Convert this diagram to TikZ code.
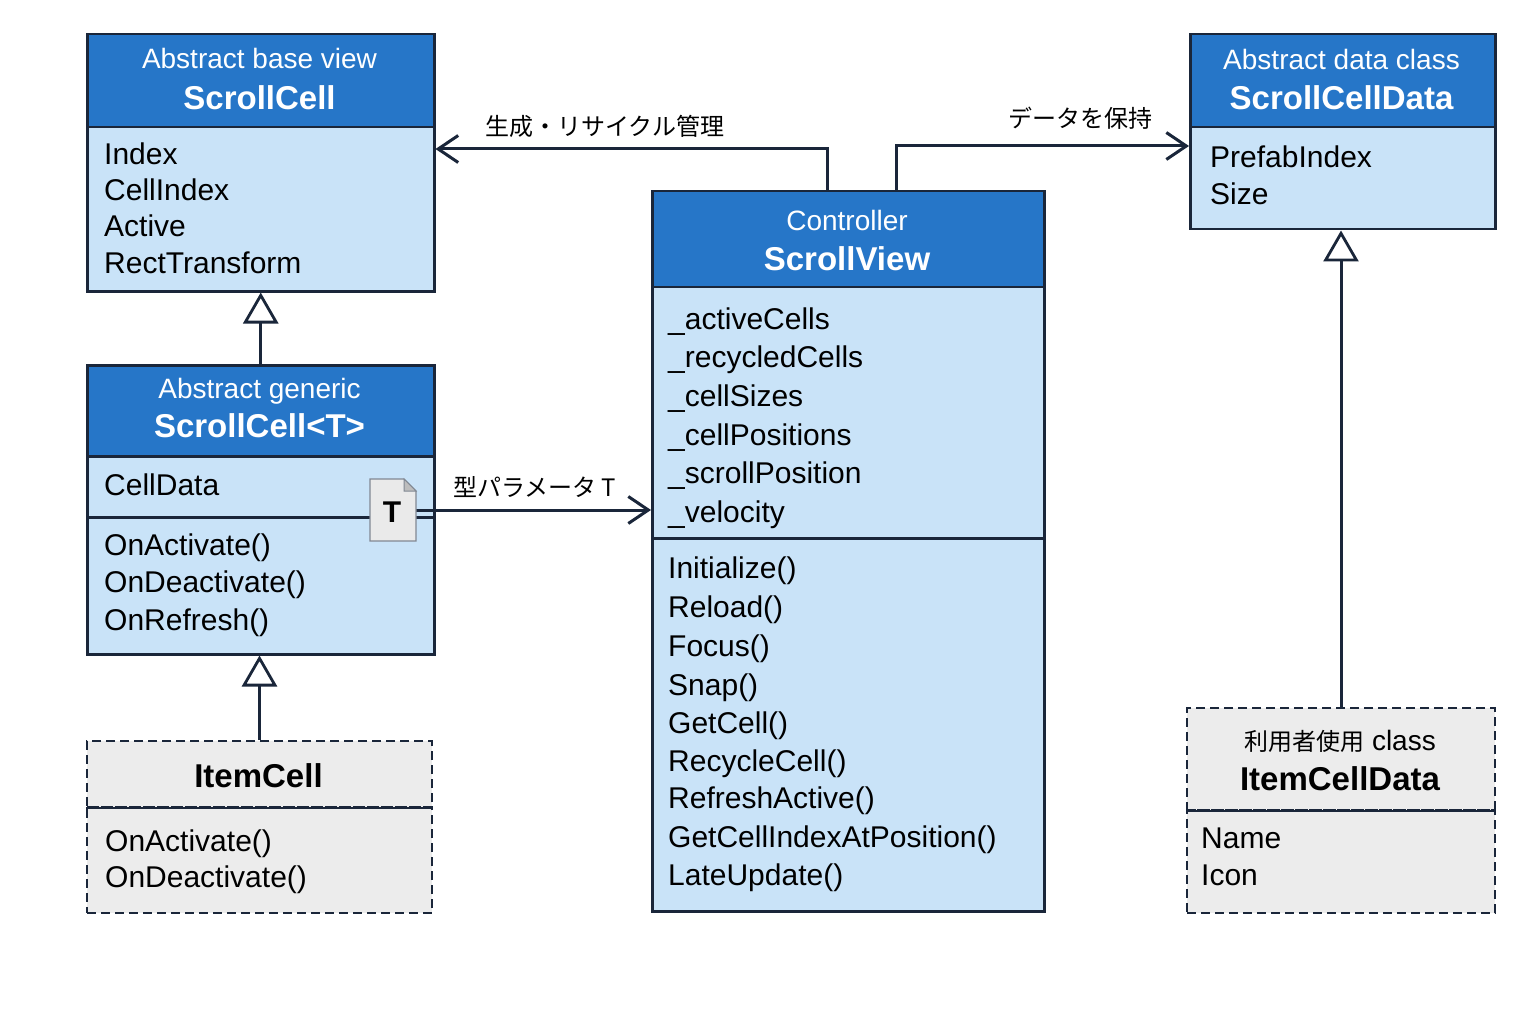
\documentclass[tikz,border=0pt]{standalone}
\usepackage{fontspec}
\setmainfont{Liberation Sans}
\newfontfamily\cjk{Noto Sans CJK JP}
\usetikzlibrary{arrows.meta,calc}
\definecolor{hd}{RGB}{38,118,200}
\definecolor{bd}{RGB}{201,227,248}
\definecolor{ln}{RGB}{26,38,58}
\definecolor{gy}{RGB}{236,236,236}
\definecolor{nt}{RGB}{234,234,234}
\newcommand\fsz[2]{\fontsize{#1}{#2}\selectfont}

\begin{document}
\begin{tikzpicture}[x=1pt, y=-1pt,
    head/.style={rectangle, draw=ln, fill=hd, line width=2.5pt, anchor=north west, inner sep=0pt},
    body/.style={rectangle, draw=ln, fill=bd, line width=2.5pt, anchor=north west, inner sep=0pt},
    ghost/.style={rectangle, draw=ln, fill=gy, line width=2pt, dash pattern=on 9pt off 5pt, anchor=north west, inner sep=0pt},
    stereo/.style={anchor=base, text=white, font=\fsz{28}{32}},
    title/.style={anchor=base, text=white, font=\bfseries\fsz{33}{38}},
    item/.style={anchor=base west, inner sep=0pt, font=\fsz{30}{34}},
    jp/.style={anchor=base west, inner sep=0pt, font=\cjk\fsz{24}{28}},
    assoc/.style={-{Straight Barb[length=20pt, width=27pt, line width=3pt]}, line width=3pt, ln},
    inherit/.style={-{Triangle[open, length=31pt, width=35pt, line width=2.8pt]}, line width=3pt, ln},
]
\useasboundingbox[fill=white] (0,0) rectangle (1536,1024);

% === ScrollCell (abstract base view) ===
\node[head, minimum width=347, minimum height=93] (cellHead) at (86,33) {};
\node[body, minimum width=347, minimum height=164] (cellBody) at (86,126) {};
\node[stereo] (cellStereo) at (259.5,69) {Abstract base view};
\node[title] (cellTitle) at (259.5,110) {ScrollCell};
\node[item] (cellA1) at (104,165) {Index};
\node[item] (cellA2) at (104,201) {CellIndex};
\node[item] (cellA3) at (104,237) {Active};
\node[item] (cellA4) at (104,273) {RectTransform};

% === ScrollCell<T> (abstract generic) ===
\node[head, minimum width=347, minimum height=91] (genHead) at (86,364) {};
\node[body, minimum width=347, minimum height=61] (genAttr) at (86,455) {};
\node[body, minimum width=347, minimum height=137] (genMeth) at (86,516) {};
\node[stereo] (genStereo) at (259.5,398) {Abstract generic};
\node[title] (genTitle) at (259.5,437) {ScrollCell<T>};
\node[item] (genA1) at (104,495) {CellData};
\node[item] (genM1) at (104,555) {OnActivate()};
\node[item] (genM2) at (104,592) {OnDeactivate()};
\node[item] (genM3) at (104,630) {OnRefresh()};

% === ItemCell (user class) ===
\node[ghost, minimum width=345, minimum height=66] (itemHead) at (86,740) {};
\node[ghost, minimum width=345, minimum height=106] (itemBody) at (86,806) {};
\draw[ln, line width=2pt] (itemHead.south west) -- (itemHead.south east);
\node[title, text=black] (itemTitle) at (258.5,787) {ItemCell};
\node[item] (itemM1) at (105,851) {OnActivate()};
\node[item] (itemM2) at (105,887) {OnDeactivate()};

% === ScrollView (controller) ===
\node[head, minimum width=392, minimum height=96] (viewHead) at (651,190) {};
\node[body, minimum width=392, minimum height=251] (viewAttr) at (651,286) {};
\node[body, minimum width=392, minimum height=373] (viewMeth) at (651,537) {};
\node[stereo] (viewStereo) at (847,231) {Controller};
\node[title] (viewTitle) at (847,271) {ScrollView};
\node[item] (viewA1) at (668,329) {\_activeCells};
\node[item] (viewA2) at (668,367) {\_recycledCells};
\node[item] (viewA3) at (668,406) {\_cellSizes};
\node[item] (viewA4) at (668,445) {\_cellPositions};
\node[item] (viewA5) at (668,483) {\_scrollPosition};
\node[item] (viewA6) at (668,522) {\_velocity};
\node[item] (viewM1) at (668,578) {Initialize()};
\node[item] (viewM2) at (668,617) {Reload()};
\node[item] (viewM3) at (668,656) {Focus()};
\node[item] (viewM4) at (668,695) {Snap()};
\node[item] (viewM5) at (668,733) {GetCell()};
\node[item] (viewM6) at (668,771) {RecycleCell()};
\node[item] (viewM7) at (668,808) {RefreshActive()};
\node[item] (viewM8) at (668,847) {GetCellIndexAtPosition()};
\node[item] (viewM9) at (668,885) {LateUpdate()};

% === ScrollCellData (abstract data class) ===
\node[head, minimum width=305, minimum height=93] (dataHead) at (1189,33) {};
\node[body, minimum width=305, minimum height=102] (dataBody) at (1189,126) {};
\node[stereo] (dataStereo) at (1341.5,70) {Abstract data class};
\node[title] (dataTitle) at (1341.5,110) {ScrollCellData};
\node[item] (dataA1) at (1210,168) {PrefabIndex};
\node[item] (dataA2) at (1210,205) {Size};

% === ItemCellData (user class) ===
\node[ghost, minimum width=308, minimum height=102] (userHead) at (1186,707) {};
\node[ghost, minimum width=308, minimum height=103] (userBody) at (1186,809) {};
\draw[ln, line width=2pt] (userHead.south west) -- (userHead.south east);
\node[stereo, text=black] (userStereo) at (1340,750) {{\cjk\fsz{24}{28}利用者使用} class};
\node[title, text=black] (userTitle) at (1340,790) {ItemCellData};
\node[item] (userA1) at (1201,848) {Name};
\node[item] (userA2) at (1201,885) {Icon};

% === Connectors ===
\coordinate (genTurn) at (827,149);
\draw[assoc] (genTurn |- viewHead.north) -- (genTurn) -- (genTurn -| cellBody.east);
\node[jp] (genLbl) at (485,136) {生成・リサイクル管理};

\coordinate (dataTurn) at (896,146);
\draw[assoc] (dataTurn |- viewHead.north) -- (dataTurn) -- (dataTurn -| dataBody.west);
\node[jp] (dataLbl) at (1008,128) {データを保持};

\draw[inherit] (genHead.north) -- (genHead.north |- cellBody.south);
\draw[inherit] (itemHead.north) -- (itemHead.north |- genMeth.south);
\draw[inherit] (userHead.north) -- (userHead.north |- dataBody.south);

% type parameter note
\node[rectangle, inner sep=0pt, outer sep=0pt, minimum width=46, minimum height=62] (tNote) at (393,510) {};
\draw[assoc] (tNote.east) -- (tNote.east -| viewAttr.west);
\node[jp] (tLbl) at (453,496) {型パラメータ T};
\draw[ln!55, fill=nt, line width=1.2pt] (tNote.south west) -- (tNote.north west) -- ($(tNote.north east)+(-12,0)$) -- ($(tNote.north east)+(0,12)$) -- (tNote.south east) -- cycle;
\draw[ln!55, fill=gy!80!black, line width=1pt] ($(tNote.north east)+(-12,0)$) |- ($(tNote.north east)+(0,12)$) -- cycle;
\node[font=\bfseries\fsz{30}{34}] (tMark) at ($(tNote.center)+(-1,2)$) {T};

\end{tikzpicture}
\end{document}
